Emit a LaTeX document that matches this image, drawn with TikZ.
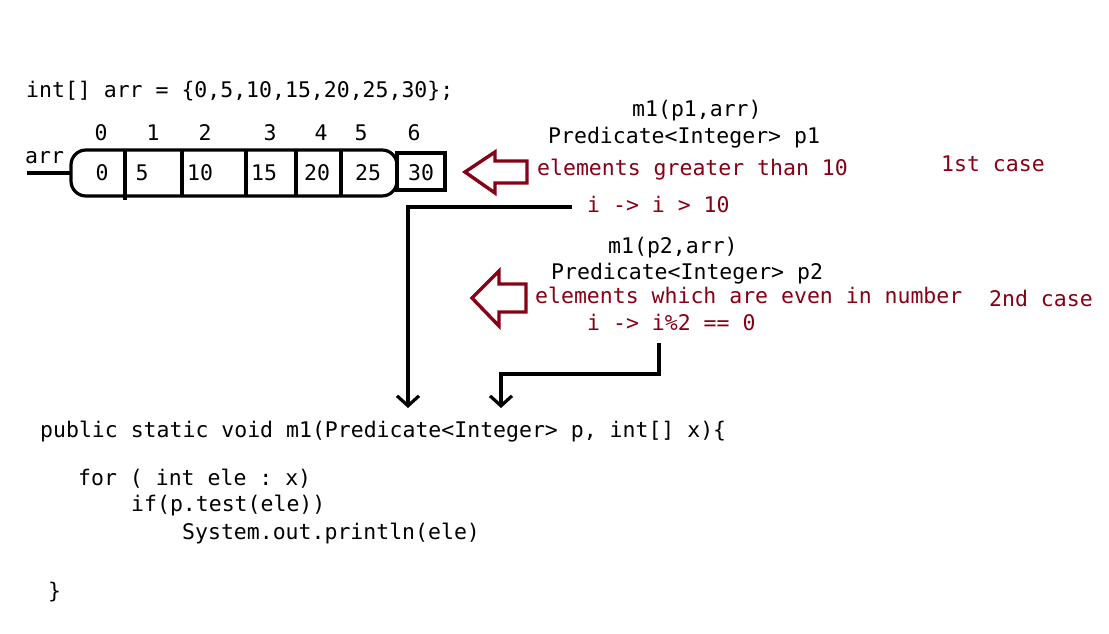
\documentclass[tikz,border=0pt]{standalone}
\usepackage{fontspec}
\setmonofont{DejaVu Sans Mono}
\usepackage{xcolor}
\usetikzlibrary{arrows.meta}
\definecolor{darkred}{RGB}{136,0,21}
\tikzset{>={Straight Barb[length=10pt,width=22pt]}}
\tikzset{
  code/.style={font=\ttfamily\fontsize{21.5}{26}\selectfont,inner sep=0pt,anchor=base west},
  num/.style={code,anchor=base},
  note/.style={code,text=darkred},
  hollow/.style={draw=darkred,line width=3.4pt,line join=miter},
  conn/.style={line width=3.2pt,->},
}

\begin{document}
\begin{tikzpicture}[x=1pt,y=-1pt]
		\useasboundingbox[fill=white] (0,0) rectangle (1109,633);
		% array declaration
		\node[code] (decl) at (26,97) {int[] arr = \{0,5,10,15,20,25,30\};};
		% indices
		\foreach \i/\x in {0/101,1/153,2/205,3/270,4/321,5/361,6/414}
			\node[num] (idx\i) at (\x,140) {\i};
		% the array itself
		\node[code] (arrlbl) at (25,163) {arr};
		\coordinate (arrtail) at (27,173);
		\coordinate (arrhead) at (71,173);
		\draw[line width=3.2pt] (arrtail) -- (arrhead);
		\draw[line width=3.2pt,rounded corners=15pt] (71,150) rectangle (397,196);
		\draw[line width=3.2pt] (125,150) -- (125,200);
		\foreach \x in {182,246,296,341}
			\draw[line width=3.2pt] (\x,150) -- (\x,196);
		\draw[line width=3.2pt,fill=white] (397,153) rectangle (445,190);
		\foreach \i/\x/\v in {0/102/0,1/142/5,2/200/10,3/264/15,4/317/20,5/368/25,6/421/30}
			\node[num] (val\i) at (\x,180) {\v};
		% 1st case
		\node[code] (callA) at (632,116) {m1(p1,arr)};
		\node[code] (predA) at (548,143) {Predicate<Integer> p1};
		\node[note] (descA) at (537,175) {elements greater than 10};
		\node[note] (lamA) at (587,212) {i -> i > 10};
		\node[note] (caseA) at (941,171) {1st case};
		\draw[hollow] (527,161) -- (495,161) -- (495,152) -- (465,172) -- (495,193) -- (495,183) -- (527,183) -- cycle;
		% 2nd case
		\node[code] (callB) at (608,253) {m1(p2,arr)};
		\node[code] (predB) at (551,279) {Predicate<Integer> p2};
		\node[note] (descB) at (535,303) {elements which are even in number};
		\node[note] (lamB) at (587,330) {i -> i\%2 == 0};
		\node[note] (caseB) at (989,306) {2nd case};
		\draw[hollow] (526,284) -- (499,284) -- (499,271) -- (472,298) -- (499,326) -- (499,312) -- (526,312) -- cycle;
		% method
		\node[code] (sig) at (40,437) {public static void m1(Predicate<Integer> p, int[] x)\{};
		\node[code] (loop) at (78,485) {for ( int ele : x)};
		\node[code] (test) at (131,511) {if(p.test(ele))};
		\node[code] (print) at (182,539) {System.out.println(ele)};
		\node[code] (close) at (48,598) {\}};
		% connectors
		\coordinate (startA) at (572,207);
		\coordinate (tipA) at (408,408);
		\draw[conn] (startA) -| (tipA);
		\coordinate (startB) at (659,343);
		\coordinate (tipB) at (501,408);
		\draw[conn] (startB) -- ++(0,31) -| (tipB);
\end{tikzpicture}
\end{document}
